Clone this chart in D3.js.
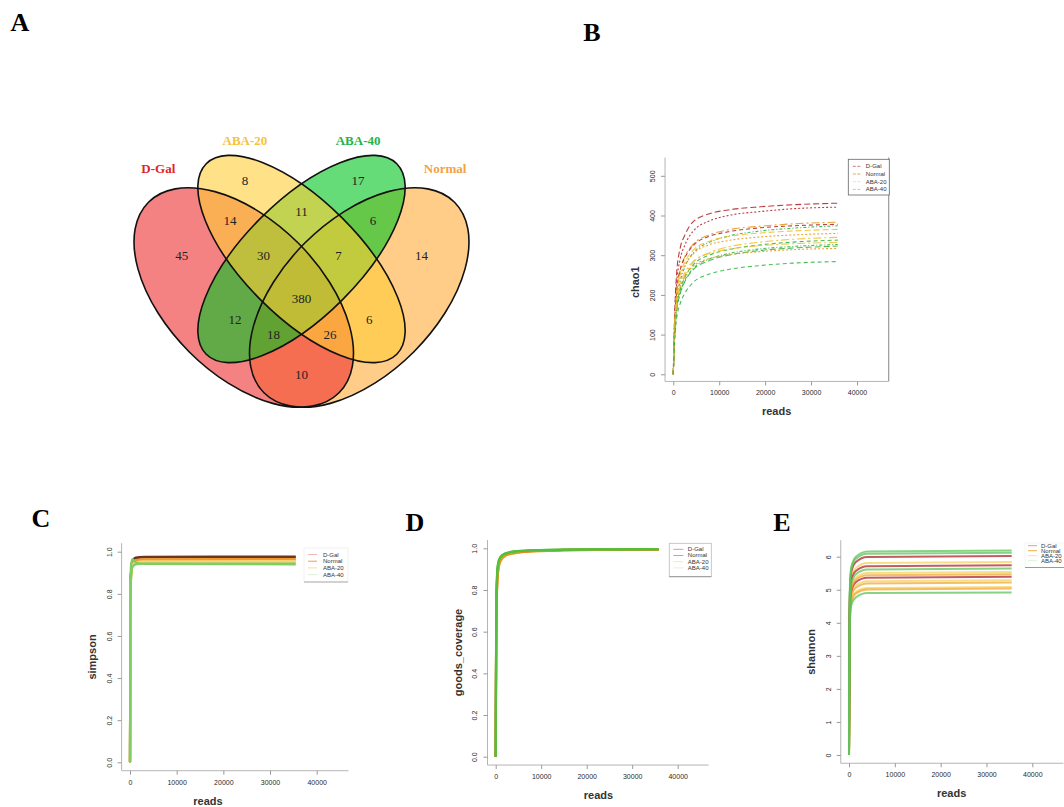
<!DOCTYPE html>
<html>
<head>
<meta charset="utf-8">
<script src="https://cdn.jsdelivr.net/npm/d3@7"></script>
<style>
  body { margin: 0; background: #fff; }
  text { font-family: "Liberation Sans", Arial, sans-serif; }
  .serif { font-family: "Liberation Serif", "Times New Roman", serif; }
</style>
</head>
<body>
<svg id="fig" width="1064" height="807"></svg>
<script>
// ---------- data ----------
const groups = ["D-Gal", "Normal", "ABA-20", "ABA-40"];

// Venn: a = D-Gal, b = ABA-20, c = ABA-40, d = Normal
const vennSets = ["D-Gal", "ABA-20", "ABA-40", "Normal"];
const vennKeys = ["a", "b", "c", "d", "ab", "bc", "cd", "abc", "bcd", "abcd", "ac", "bd", "acd", "abd", "ad"];
const vennCounts = [45, 8, 17, 14, 14, 11, 6, 30, 7, 380, 12, 6, 18, 26, 10];

// B: chao1 rarefaction
const chaoReads = [0, 200, 700, 1500, 2500, 4300, 8000, 12000, 19000, 26000, 35800];
const chaoGroups = ["D-Gal", "D-Gal", "Normal", "D-Gal", "ABA-40", "ABA-20", "Normal", "ABA-20", "ABA-40", "ABA-40", "ABA-40", "Normal", "ABA-20", "ABA-40"];
const chaoValues = [
  [0, 110, 250, 318, 350, 384, 405, 414, 422, 427, 431],
  [0, 100, 225, 290, 325, 360, 387, 400, 410, 417, 421],
  [0, 92, 205, 264, 296, 327, 352, 364, 373, 379, 383],
  [0, 92, 204, 262, 293, 324, 348, 359, 369, 374, 378],
  [0, 82, 180, 234, 270, 305, 333, 348, 361, 368, 374],
  [0, 88, 196, 252, 282, 312, 336, 347, 356, 361, 365],
  [0, 86, 190, 245, 274, 303, 327, 337, 346, 351, 355],
  [0, 76, 168, 217, 249, 281, 307, 321, 333, 340, 345],
  [0, 75, 164, 212, 244, 275, 301, 314, 326, 333, 338],
  [0, 72, 159, 205, 236, 266, 291, 304, 316, 322, 327],
  [0, 71, 157, 203, 233, 263, 287, 300, 312, 318, 323],
  [0, 76, 170, 219, 245, 272, 292, 301, 309, 314, 317],
  [0, 80, 178, 228, 256, 284, 305, 315, 324, 329, 332],
  [0, 62, 138, 178, 204, 231, 253, 264, 274, 280, 284]
];

// C: simpson
const simpsonReads = [0, 60, 200, 500, 1200, 3000, 35500];
const simpsonGroups = ["D-Gal", "D-Gal", "Normal", "Normal", "ABA-20", "ABA-20", "ABA-40", "ABA-40"];
const simpsonValues = [
  [0, 0.62, 0.90, 0.955, 0.972, 0.976, 0.977],
  [0, 0.60, 0.89, 0.950, 0.969, 0.973, 0.974],
  [0, 0.60, 0.88, 0.945, 0.960, 0.964, 0.965],
  [0, 0.59, 0.88, 0.942, 0.957, 0.961, 0.962],
  [0, 0.58, 0.87, 0.935, 0.950, 0.954, 0.955],
  [0, 0.57, 0.86, 0.930, 0.946, 0.950, 0.951],
  [0, 0.58, 0.86, 0.925, 0.940, 0.943, 0.944],
  [0, 0.63, 0.93, 0.965, 0.950, 0.942, 0.940]
];

// D: goods_coverage
const goodsReads = [0, 100, 250, 500, 1000, 2000, 4000, 8000, 15000, 25000, 35800];
const goodsGroups = ["D-Gal", "Normal", "ABA-20", "D-Gal", "Normal", "ABA-40", "ABA-40"];
const goodsValues = [
  [0, 0.52, 0.78, 0.89, 0.940, 0.965, 0.978, 0.986, 0.991, 0.993, 0.994],
  [0, 0.55, 0.76, 0.88, 0.935, 0.962, 0.976, 0.985, 0.990, 0.993, 0.994],
  [0, 0.57, 0.82, 0.91, 0.950, 0.970, 0.982, 0.989, 0.993, 0.995, 0.996],
  [0, 0.58, 0.82, 0.91, 0.948, 0.968, 0.980, 0.988, 0.992, 0.994, 0.995],
  [0, 0.56, 0.80, 0.90, 0.945, 0.968, 0.980, 0.988, 0.992, 0.994, 0.995],
  [0, 0.60, 0.84, 0.92, 0.955, 0.973, 0.984, 0.990, 0.993, 0.995, 0.996],
  [0, 0.62, 0.85, 0.925, 0.958, 0.975, 0.985, 0.990, 0.994, 0.995, 0.996]
];

// E: shannon
const shannonReads = [0, 150, 500, 1500, 4000, 35500];
const shannonGroups = ["ABA-20", "Normal", "ABA-20", "Normal", "ABA-20", "D-Gal", "ABA-20", "Normal", "D-Gal", "D-Gal", "ABA-40", "ABA-40", "ABA-40", "ABA-40"];
const shannonValues = [
  [0, 3.96, 4.67, 4.93, 5.05, 5.08],
  [0, 3.93, 4.64, 4.89, 5.01, 5.04],
  [0, 4.13, 4.87, 5.13, 5.26, 5.29],
  [0, 4.07, 4.80, 5.06, 5.19, 5.22],
  [0, 4.32, 5.10, 5.37, 5.51, 5.54],
  [0, 4.20, 4.96, 5.23, 5.36, 5.39],
  [0, 4.56, 5.37, 5.66, 5.81, 5.84],
  [0, 4.27, 5.03, 5.31, 5.44, 5.47],
  [0, 4.48, 5.28, 5.57, 5.71, 5.74],
  [0, 4.70, 5.54, 5.84, 5.99, 6.02],
  [0, 3.84, 4.53, 4.77, 4.90, 4.92],
  [0, 4.40, 5.19, 5.47, 5.61, 5.64],
  [0, 4.77, 5.63, 5.94, 6.09, 6.12],
  [0, 4.83, 5.69, 6.00, 6.16, 6.19]
];

const readTicks = [0, 10000, 20000, 30000, 40000];

// ---------- drawing ----------
const svg = d3.select("#fig");

// panel letters
const letters = [["A", 20, 22], ["B", 592, 32], ["C", 41, 518], ["D", 415, 522], ["E", 782, 522]];
svg.selectAll(".letter").data(letters).enter().append("text")
  .attr("class", "letter serif")
  .attr("x", d => d[1]).attr("y", d => d[2])
  .attr("text-anchor", "middle").attr("dominant-baseline", "central")
  .style("font-size", "26px").style("font-weight", "bold")
  .text(d => d[0]);

// ----- Venn (A) -----
const U = 385, VX = 301.5, VY = 297.5;
const vx = u => VX + u * U, vy = u => VY + u * U;

// ellipse geometry in VennDiagram units (quad layout)
const vennShapes = {
  "D-Gal":  { cx: -0.15, cy: 0,    rx: 0.35, ry: 0.20, rot: 45,  fill: "#ee2f2f", label: "#e0262c", lx: -0.372, ly: -0.336 },
  "ABA-20": { cx: 0,     cy: -0.1, rx: 0.35, ry: 0.15, rot: 45,  fill: "#ffcd37", label: "#f7c13e", lx: -0.147, ly: -0.409 },
  "ABA-40": { cx: 0,     cy: -0.1, rx: 0.35, ry: 0.15, rot: -45, fill: "#00c520", label: "#25b446", lx: 0.147,  ly: -0.409 },
  "Normal": { cx: 0.15,  cy: 0,    rx: 0.35, ry: 0.20, rot: -45, fill: "#ffac37", label: "#f5a142", lx: 0.373,  ly: -0.336 }
};
const fillOrder = ["Normal", "D-Gal", "ABA-40", "ABA-20"];
const regionAnchor = {
  a: [-0.311, -0.110], b: [-0.147, -0.305], c: [0.147, -0.305], d: [0.312, -0.110],
  ab: [-0.186, -0.201], bc: [0, -0.223], cd: [0.186, -0.201],
  abc: [-0.099, -0.110], bcd: [0.096, -0.110], abcd: [0, 0.002],
  ac: [-0.173, 0.057], bd: [0.176, 0.057], acd: [-0.073, 0.097], abd: [0.074, 0.097], ad: [0, 0.199]
};

const venn = svg.append("g").attr("class", "venn");
venn.selectAll(".vfill").data(fillOrder).enter().append("ellipse")
  .attr("class", "vfill")
  .attr("transform", k => `translate(${vx(vennShapes[k].cx)},${vy(vennShapes[k].cy)}) rotate(${vennShapes[k].rot})`)
  .attr("rx", k => vennShapes[k].rx * U).attr("ry", k => vennShapes[k].ry * U)
  .style("fill", k => vennShapes[k].fill).style("fill-opacity", 0.6).style("stroke", "none");
venn.selectAll(".vline").data(vennSets).enter().append("ellipse")
  .attr("class", "vline")
  .attr("transform", k => `translate(${vx(vennShapes[k].cx)},${vy(vennShapes[k].cy)}) rotate(${vennShapes[k].rot})`)
  .attr("rx", k => vennShapes[k].rx * U).attr("ry", k => vennShapes[k].ry * U)
  .style("fill", "none").style("stroke", "#111").style("stroke-width", 1.6);
venn.selectAll(".vnum").data(vennKeys).enter().append("text")
  .attr("class", "vnum serif")
  .attr("x", k => vx(regionAnchor[k][0])).attr("y", k => vy(regionAnchor[k][1]))
  .attr("text-anchor", "middle").attr("dominant-baseline", "central")
  .style("font-size", "13px").style("fill", "#222")
  .text((k, i) => vennCounts[i]);
venn.selectAll(".vlab").data(vennSets).enter().append("text")
  .attr("class", "vlab serif")
  .attr("x", k => vx(vennShapes[k].lx)).attr("y", k => vy(vennShapes[k].ly))
  .attr("text-anchor", "middle").attr("dominant-baseline", "central")
  .style("font-size", "13px").style("font-weight", "bold")
  .style("fill", k => vennShapes[k].label)
  .text(k => k);

// ----- rarefaction panels -----
function drawPanel(cfg) {
  const g = svg.append("g").attr("class", "panel-" + cfg.id);
  const x = d3.scaleLinear().domain([0, 40000]).range([cfg.x0, cfg.x40]);
  const y = d3.scaleLinear().domain([0, cfg.yRef]).range([cfg.y0, cfg.yRefPx]);
  const xl = [-1800, 46800];
  const left = x(xl[0]), right = x(xl[1]);
  const top = y(cfg.yRegion[1]), bottom = y(cfg.yRegion[0]);

  // L box
  g.append("path")
    .attr("d", `M${left},${top}V${bottom}H${right}`)
    .style("fill", "none").style("stroke", "#b5b5b5").style("stroke-width", 1);
  if (cfg.rightLine) {
    g.append("line").attr("x1", x(46900)).attr("x2", x(46900)).attr("y1", top).attr("y2", bottom)
      .style("stroke", "#999").style("stroke-width", 1.2);
  }

  // axes
  const xa = g.append("g").attr("transform", `translate(0,${bottom})`)
    .call(d3.axisBottom(x).tickValues(readTicks).tickSize(4).tickPadding(5).tickFormat(d3.format("d")));
  const ya = g.append("g").attr("transform", `translate(${left},0)`)
    .call(d3.axisLeft(y).tickValues(cfg.yTicks).tickSize(4).tickFormat(cfg.yFormat));
  [xa, ya].forEach(a => {
    a.select(".domain").remove();
    a.selectAll(".tick line").style("stroke", "#999");
    a.selectAll("text").style("font-size", "7px").style("fill", "#2a2a2a")
      .style("font-family", "'Liberation Sans', Arial, sans-serif");
  });
  ya.selectAll(".tick text")
    .attr("x", null).attr("dy", "0.35em").attr("text-anchor", "middle")
    .attr("transform", "translate(-12.5,0) rotate(-90)");

  // titles
  g.append("text").attr("x", x(cfg.titleX)).attr("y", bottom + 30)
    .attr("text-anchor", "middle").attr("dominant-baseline", "central")
    .style("font-size", "11px").style("font-weight", "bold").style("fill", "#333")
    .text("reads");
  g.append("text")
    .attr("transform", `translate(${left - 30},${y(cfg.titleY)}) rotate(-90)`)
    .attr("text-anchor", "middle").attr("dominant-baseline", "central")
    .style("font-size", "11px").style("font-weight", "bold").style("fill", "#333")
    .text(cfg.ylabel);

  // curves
  const line = d3.line().x(d => x(d[0])).y(d => y(d[1])).curve(d3.curveMonotoneX);
  cfg.values.forEach((vals, i) => {
    const grp = cfg.groups[i];
    g.append("path")
      .datum(cfg.reads.map((r, j) => [r, vals[j]]))
      .attr("d", line)
      .style("fill", "none")
      .style("stroke", cfg.colors[grp])
      .style("stroke-width", cfg.lineWidth)
      .style("stroke-opacity", cfg.opacity)
      .style("stroke-dasharray", cfg.dashes ? cfg.dashes[i % cfg.dashes.length] : null);
  });

  // legend
  const L = cfg.legend;
  const lg = g.append("g").attr("transform", `translate(${L.x},${L.y})`);
  lg.append("rect").attr("width", L.w).attr("height", L.h)
    .style("fill", "#fff").style("stroke", L.border).style("stroke-width", 0.8);
  if (L.bottom) {
    lg.append("line").attr("x1", 0).attr("x2", L.w).attr("y1", L.h).attr("y2", L.h)
      .style("stroke", L.bottom).style("stroke-width", 1);
  }
  groups.forEach((grp, i) => {
    const ry = L.pad + i * L.row;
    lg.append("line").attr("x1", L.lx0).attr("x2", L.lx1).attr("y1", ry).attr("y2", ry)
      .style("stroke", L.colors[grp]).style("stroke-width", 1)
      .style("stroke-dasharray", cfg.dashes ? "3,1.5" : null);
    lg.append("text").attr("x", L.tx).attr("y", ry).attr("dominant-baseline", "central")
      .style("font-size", "6px").style("fill", "#333").text(grp);
  });
}

drawPanel({
  id: "B", x0: 673.3, x40: 857, y0: 374.3, yRef: 500, yRefPx: 175.8,
  yRegion: [-18, 546], yTicks: [0, 100, 200, 300, 400, 500], yFormat: d3.format("d"),
  ylabel: "chao1", titleX: 22500, titleY: 232, rightLine: true,
  reads: chaoReads, groups: chaoGroups, values: chaoValues,
  colors: { "D-Gal": "#b8282c", "Normal": "#e79a1e", "ABA-20": "#f1c232", "ABA-40": "#35b545" },
  lineWidth: 1.1, opacity: 0.9, dashes: ["6,3", "2,2", "8,3,2,3", "4,3", "3,2,1,2"],
  legend: { x: 848.3, y: 159.3, w: 41, h: 35.7, pad: 7, row: 7.7, lx0: 4.5, lx1: 13.5, tx: 17.5,
    border: "#666", colors: { "D-Gal": "#d77a7a", "Normal": "#e9a83a", "ABA-20": "#f7e3a0", "ABA-40": "#a8dcae" } }
});

drawPanel({
  id: "C", x0: 130, x40: 316.7, y0: 762.3, yRef: 1, yRefPx: 551.7,
  yRegion: [-0.04, 1.04], yTicks: [0, 0.2, 0.4, 0.6, 0.8, 1.0], yFormat: d3.format(".1f"),
  ylabel: "simpson", titleX: 16700, titleY: 0.5,
  reads: simpsonReads, groups: simpsonGroups, values: simpsonValues,
  colors: { "D-Gal": "#6e3520", "Normal": "#ef9a2a", "ABA-20": "#f8d27a", "ABA-40": "#7fcd63" },
  lineWidth: 2.2, opacity: 1,
  legend: { x: 304, y: 548, w: 44, h: 34, pad: 6.5, row: 6.7, lx0: 4, lx1: 13, tx: 19,
    border: "#eee", bottom: "#aaa",
    colors: { "D-Gal": "#f2b8b8", "Normal": "#f0a040", "ABA-20": "#f8dfa0", "ABA-40": "#e0f0d8" } }
});

drawPanel({
  id: "D", x0: 495.7, x40: 677.7, y0: 756.7, yRef: 1, yRefPx: 548.3,
  yRegion: [-0.04, 1.04], yTicks: [0, 0.2, 0.4, 0.6, 0.8, 1.0], yFormat: d3.format(".1f"),
  ylabel: "goods_coverage", titleX: 22600, titleY: 0.5,
  reads: goodsReads, groups: goodsGroups, values: goodsValues,
  colors: { "D-Gal": "#d0443a", "Normal": "#eda21f", "ABA-20": "#f3cf55", "ABA-40": "#52bf3f" },
  lineWidth: 2.2, opacity: 1,
  legend: { x: 669.3, y: 543.3, w: 42, h: 33.4, pad: 6, row: 6.2, lx0: 4, lx1: 14, tx: 18.5,
    border: "#bbb", bottom: "#999",
    colors: { "D-Gal": "#e79a9a", "Normal": "#eaa526", "ABA-20": "#f8e6b0", "ABA-40": "#e5f2e0" } }
});

drawPanel({
  id: "E", x0: 849, x40: 1032.3, y0: 755, yRef: 6, yRefPx: 556.7,
  yRegion: [-0.25, 6.5], yTicks: [0, 1, 2, 3, 4, 5, 6], yFormat: d3.format("d"),
  ylabel: "shannon", titleX: 22400, titleY: 3.12,
  reads: shannonReads, groups: shannonGroups, values: shannonValues,
  colors: { "D-Gal": "#b0242c", "Normal": "#f0a830", "ABA-20": "#f6d262", "ABA-40": "#5ec45a" },
  lineWidth: 2, opacity: 0.75,
  legend: { x: 1025, y: 543, w: 45, h: 24.5, pad: 2.7, row: 5, lx0: 3, lx1: 12, tx: 16,
    border: "#f2f2f2", bottom: "#999",
    colors: { "D-Gal": "#e59aa0", "Normal": "#f0b040", "ABA-20": "#f8e0a8", "ABA-40": "#e2f0dc" } }
});
</script>
</body>
</html>
